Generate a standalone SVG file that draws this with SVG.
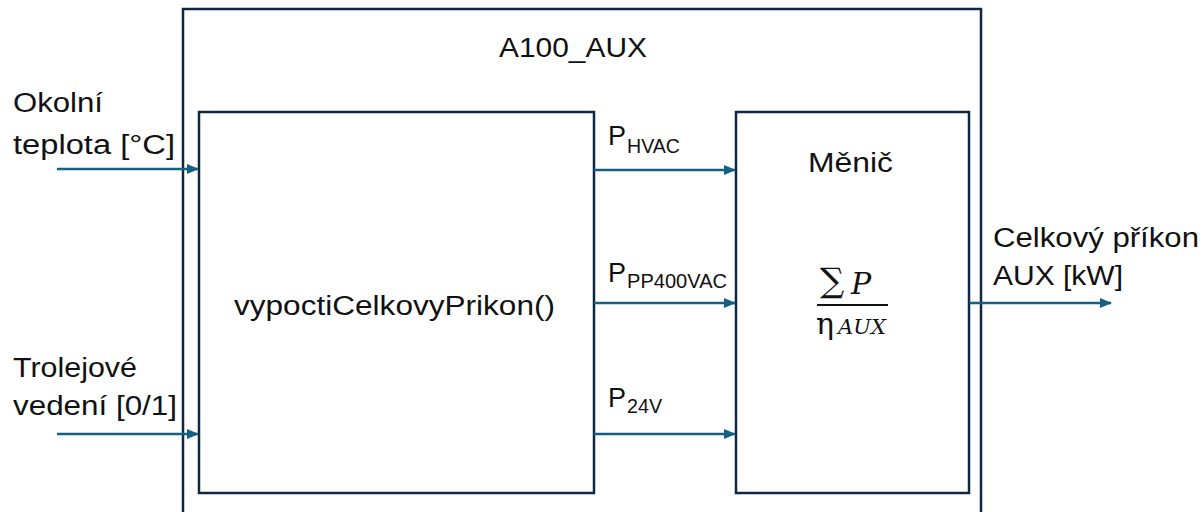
<svg xmlns="http://www.w3.org/2000/svg" width="1203" height="512" viewBox="0 0 1203 512">
<defs>
<style>
.box{fill:#fff;stroke:#0e2841;stroke-width:2.5}
.wire{stroke:#156082;stroke-width:2.5;fill:none}
.t{font-family:"Liberation Sans",Arial,sans-serif;font-size:27px;fill:#111}
.sub{font-size:20px}
.m{font-family:"DejaVu Serif","Liberation Serif",serif;fill:#111}
</style>
<marker id="arr" viewBox="0 0 10 10" refX="9" refY="5" markerWidth="5" markerHeight="5" orient="auto" markerUnits="strokeWidth">
<path d="M0,1 L10,5 L0,9 Z" fill="#156082"/>
</marker>
</defs>
<rect width="1203" height="512" fill="#fff"/>
<g id="a100_aux">
<rect class="box" x="183" y="9" width="798" height="520"/>
<text class="t" x="499" y="57" textLength="148" lengthAdjust="spacingAndGlyphs">A100_AUX</text>
</g>
<g id="vypocti">
<rect class="box" x="199" y="112" width="395" height="381"/>
<text class="t" x="234" y="315" textLength="321" lengthAdjust="spacingAndGlyphs">vypoctiCelkovyPrikon()</text>
</g>
<g id="menic">
<rect class="box" x="736" y="112" width="233" height="381"/>
<text class="t" x="808" y="172" textLength="85" lengthAdjust="spacingAndGlyphs">Měnič</text>
<text class="m" x="820" y="292" font-size="34">∑</text>
<text class="m" x="851" y="294" font-size="30" font-style="italic">P</text>
<line x1="817" y1="305" x2="888" y2="305" stroke="#111" stroke-width="2.2"/>
<text class="m" x="816" y="334" font-size="30">η</text>
<text class="m" x="838" y="334" font-size="20" font-style="italic" textLength="48" lengthAdjust="spacingAndGlyphs">AUX</text>
</g>
<g id="connectors">
<line class="wire" x1="57" y1="169" x2="198" y2="169" marker-end="url(#arr)"/>
<line class="wire" x1="57" y1="434" x2="198" y2="434" marker-end="url(#arr)"/>
<line class="wire" x1="594" y1="170" x2="735" y2="170" marker-end="url(#arr)"/>
<line class="wire" x1="594" y1="303" x2="735" y2="303" marker-end="url(#arr)"/>
<line class="wire" x1="594" y1="434" x2="735" y2="434" marker-end="url(#arr)"/>
<line class="wire" x1="969" y1="303" x2="1111" y2="303" marker-end="url(#arr)"/>
</g>
<g id="labels">
<text class="t" x="13" y="112" textLength="90" lengthAdjust="spacingAndGlyphs">Okolní</text>
<text class="t" x="13" y="154" textLength="162" lengthAdjust="spacingAndGlyphs">teplota [°C]</text>
<text class="t" x="13" y="377" textLength="124" lengthAdjust="spacingAndGlyphs">Trolejové</text>
<text class="t" x="13" y="415" textLength="164" lengthAdjust="spacingAndGlyphs">vedení [0/1]</text>
<text class="t" x="608" y="145" font-size="28">P<tspan class="sub" x="627" y="153" textLength="53" lengthAdjust="spacingAndGlyphs">HVAC</tspan></text>
<text class="t" x="608" y="282" font-size="28">P<tspan class="sub" x="627" y="288" textLength="100" lengthAdjust="spacingAndGlyphs">PP400VAC</tspan></text>
<text class="t" x="608" y="407" font-size="28">P<tspan class="sub" x="627" y="413" textLength="35" lengthAdjust="spacingAndGlyphs">24V</tspan></text>
<text class="t" x="993" y="247" textLength="206" lengthAdjust="spacingAndGlyphs">Celkový příkon</text>
<text class="t" x="993" y="285" textLength="130" lengthAdjust="spacingAndGlyphs">AUX [kW]</text>
</g>
</svg>
